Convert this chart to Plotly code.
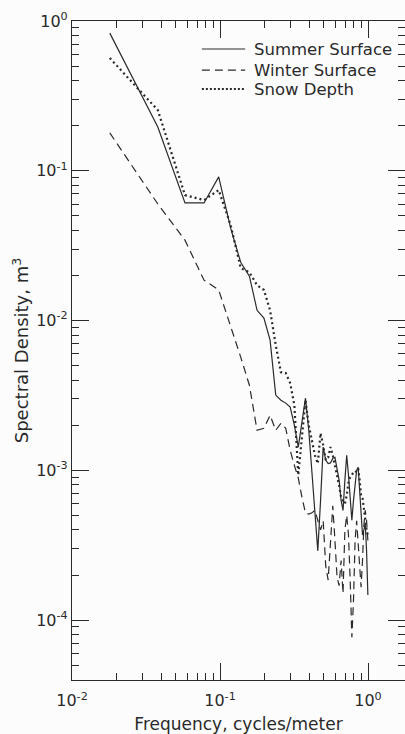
import plotly.graph_objects as go

# Frequency (cycles/meter) and spectral densities (m^3)
frequency = [0.018, 0.038, 0.058, 0.078, 0.098, 0.118, 0.138, 0.158, 0.178, 0.198,
             0.218, 0.238, 0.258, 0.278, 0.298, 0.318, 0.338, 0.358, 0.378, 0.398,
             0.418, 0.438, 0.458, 0.478, 0.498, 0.518, 0.538, 0.558, 0.578, 0.598,
             0.618, 0.638, 0.658, 0.678, 0.698, 0.718, 0.738, 0.758, 0.778, 0.798,
             0.818, 0.838, 0.858, 0.878, 0.898, 0.918, 0.938, 0.958, 0.978, 0.998]

summer_surface = [0.83, 0.196, 0.061, 0.061, 0.091, 0.0414, 0.0245, 0.0198, 0.0117, 0.0104,
                  0.0074, 0.00318, 0.00294, 0.00281, 0.00264, 0.0020, 0.00143, 0.00216, 0.00303, 0.00185,
                  0.0010, 0.00054, 0.00029, 0.00063, 0.00143, 0.00117, 0.00111, 0.00112, 0.0012, 0.00122,
                  0.0010, 0.00086, 0.00063, 0.00054, 0.00086, 0.00126, 0.00093, 0.00063, 0.000464, 0.00063,
                  0.00079, 0.0010, 0.00105, 0.00074, 0.0005, 0.00037, 0.0004, 0.00044, 0.00029, 0.000147]

winter_surface = [0.179, 0.06, 0.0344, 0.0186, 0.016, 0.0093, 0.0057, 0.0037, 0.00185, 0.00191,
                  0.00233, 0.00185, 0.00206, 0.00191, 0.00136, 0.00108, 0.00089, 0.00066, 0.00052, 0.00051,
                  0.00052, 0.00054, 0.00046, 0.0004, 0.00046, 0.00023, 0.000185, 0.00034, 0.00058, 0.00034,
                  0.000193, 0.00017, 0.00025, 0.000151, 0.0004, 0.0005, 0.00037, 0.000185, 0.0000767, 0.000136,
                  0.00034, 0.00046, 0.00032, 0.0002, 0.000166, 0.00025, 0.00043, 0.00054, 0.00046, 0.00034]

snow_depth = [0.566, 0.254, 0.0688, 0.0637, 0.0743, 0.0434, 0.0224, 0.021, 0.0172, 0.016,
              0.0117, 0.00685, 0.00452, 0.00446, 0.00382, 0.00272, 0.00093, 0.00159, 0.00294, 0.0020,
              0.00159, 0.00126, 0.00111, 0.00177, 0.00147, 0.00117, 0.00122, 0.00143, 0.00126, 0.00108,
              0.00096, 0.00079, 0.00066, 0.00063, 0.0006, 0.00068, 0.00083, 0.0009, 0.00094, 0.00097,
              0.00096, 0.0010, 0.00103, 0.00086, 0.00068, 0.00066, 0.00054, 0.00044, 0.0004, 0.00037]

series_names = ["Summer Surface", "Winter Surface", "Snow Depth"]

x_tick_vals = [0.01, 0.1, 1]
x_tick_text = ["10<sup>-2</sup>", "10<sup>-1</sup>", "10<sup>0</sup>"]
y_tick_vals = [1e-4, 1e-3, 1e-2, 1e-1, 1]
y_tick_text = ["10<sup>-4</sup>", "10<sup>-3</sup>", "10<sup>-2</sup>", "10<sup>-1</sup>", "10<sup>0</sup>"]

ink = "#2a2a2a"
font_family = "DejaVu Sans"

line_styles = [
    dict(color=ink, width=1.2),
    dict(color=ink, width=1.2, dash="8px,5px"),
    dict(color=ink, width=2.2, dash="2px,3px"),
]
legend_styles = [
    dict(color=ink, width=1.2),
    dict(color=ink, width=1.2, dash="8px,5px"),
    dict(color=ink, width=2.0, dash="2px,2px"),
]

fig = go.Figure()
for name, values, style in zip(series_names, [summer_surface, winter_surface, snow_depth], line_styles):
    fig.add_trace(go.Scatter(x=frequency, y=values, mode="lines", name=name, line=style,
                             showlegend=False))

# Key in the upper right corner: sample line followed by the series name
key_rows_y = [0.9575, 0.9256, 0.8968]
for name, style, ky in zip(series_names, legend_styles, key_rows_y):
    fig.add_shape(type="line", xref="paper", yref="paper", x0=0.390, x1=0.520, y0=ky, y1=ky,
                  line=style)
    fig.add_annotation(xref="paper", yref="paper", x=0.540, y=ky, text=name, showarrow=False,
                       xanchor="left", yanchor="middle",
                       font=dict(family=font_family, size=16.5, color=ink))

axis_common = dict(
    type="log",
    showline=True, linecolor=ink, linewidth=1.2,
    mirror="ticks", ticks="inside", ticklen=17, tickwidth=1.3, tickcolor=ink,
    showgrid=False, zeroline=False,
    tickfont=dict(family=font_family, size=16, color=ink),
    minor=dict(ticks="inside", ticklen=7, tickwidth=1.1, tickcolor=ink, dtick="D1", showgrid=False),
)

fig.update_xaxes(**axis_common, range=[-2.0, 0.25], tickvals=x_tick_vals, ticktext=x_tick_text,
                 ticklabelstandoff=6,
                 title=dict(text="Frequency, cycles/meter", font=dict(family=font_family, size=17, color=ink),
                            standoff=12))
fig.update_yaxes(**axis_common, range=[-4.4, 0.0], tickvals=y_tick_vals, ticktext=y_tick_text,
                 title=dict(text="Spectral Density, m<sup>3</sup>", font=dict(family=font_family, size=18, color=ink),
                            standoff=2))

fig.update_layout(
    width=405, height=734,
    margin=dict(l=72, r=0, t=21, b=54),
    paper_bgcolor="#fcfcfc", plot_bgcolor="#fcfcfc",
    showlegend=False,
)

fig.write_html("out.html")
